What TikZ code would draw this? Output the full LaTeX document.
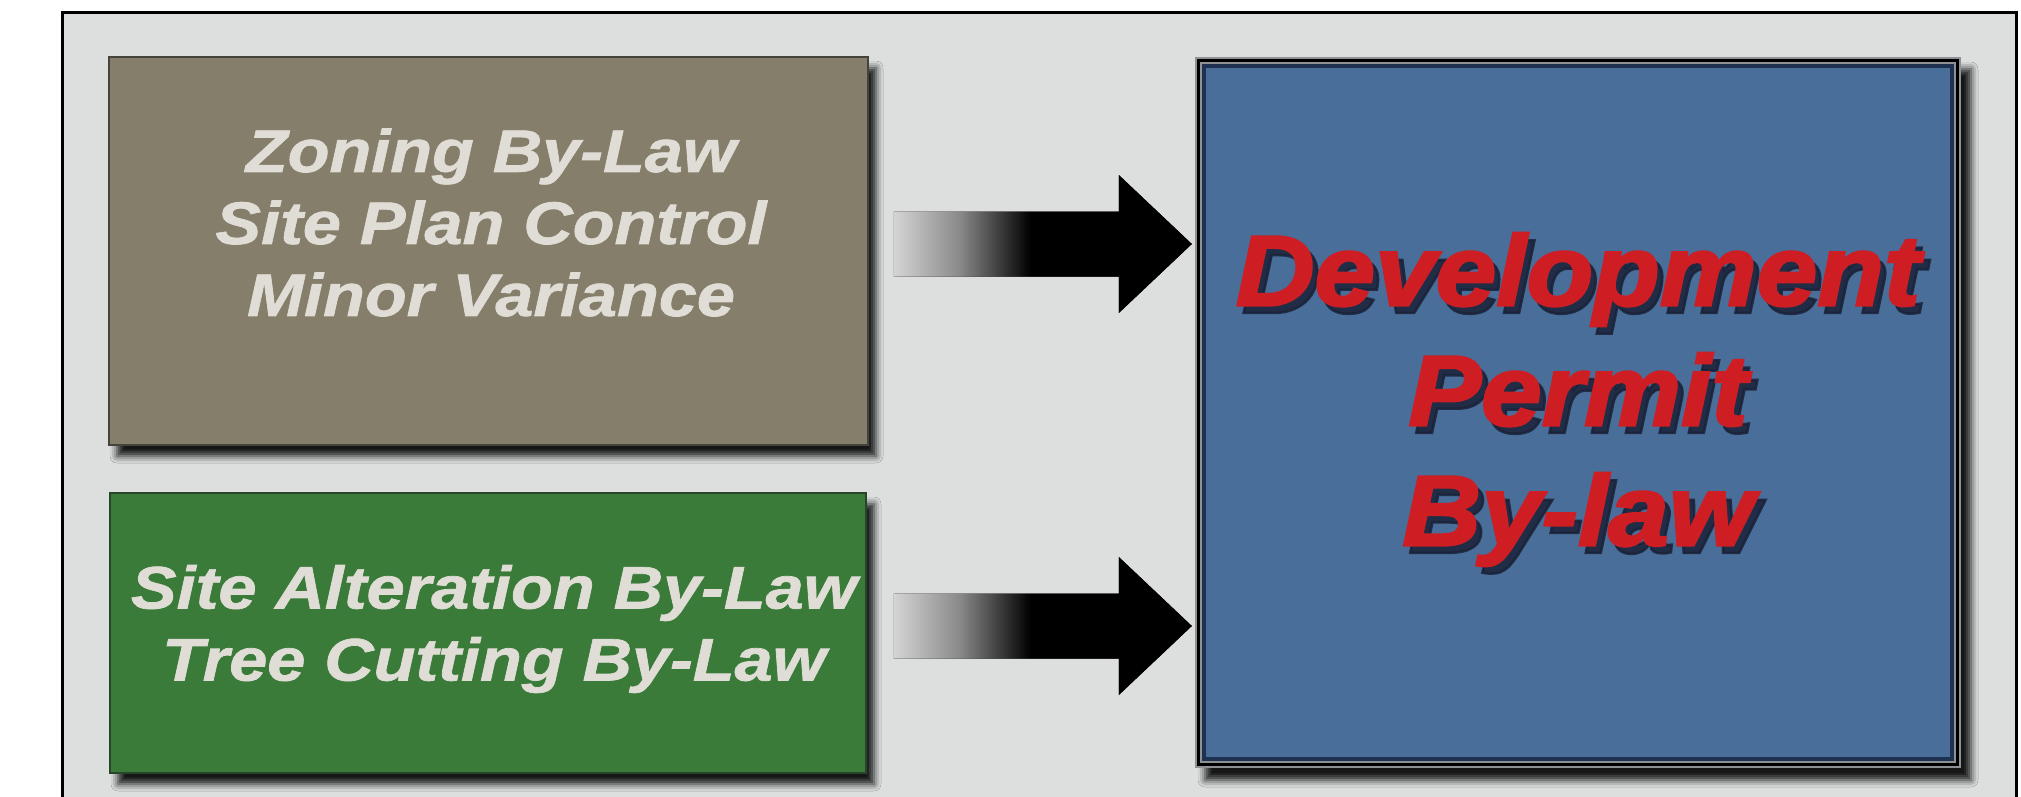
\documentclass[tikz,border=0pt]{standalone}
\usepackage{fontspec}
\newfontfamily\lawfont{Liberation Sans}[FakeStretch=1.14,FakeBold=1.2]
\newfontfamily\devfont{Liberation Sans}[FakeStretch=1.09,FakeBold=2.6]
\usetikzlibrary{calc,shadows.blur}
\definecolor{panelgray}{HTML}{DCDFDE}
\definecolor{zonbrown}{HTML}{857E6B}
\definecolor{zonedge}{HTML}{45443C}
\definecolor{sitegreen}{HTML}{3A7B3A}
\definecolor{siteedge}{HTML}{28452A}
\definecolor{devblue}{HTML}{496E99}
\definecolor{devnavy}{HTML}{1E3150}
\definecolor{devrim}{HTML}{8E9196}
\definecolor{lawtext}{HTML}{E0DDD6}
\definecolor{devred}{HTML}{CE1E24}
\definecolor{devshadow}{HTML}{1A2238}
\definecolor{arrowlight}{HTML}{D4D4D4}
\definecolor{arrowmid}{HTML}{8A8A8A}
\pgfdeclarehorizontalshading{arrowfade}{100bp}{color(0bp)=(arrowlight); color(25bp)=(arrowlight); color(36bp)=(arrowmid); color(48bp)=(black); color(100bp)=(black)}
\newcommand\lawarrow[2]{%
  \fill[shading=arrowfade]
    ($(#1)+(0,-32.5)$) -- ($(#2)+(-73,-32.5)$) -- ($(#2)+(-73,-69)$) -- (#2)
    -- ($(#2)+(-73,69)$) -- ($(#2)+(-73,32.5)$) -- ($(#1)+(0,32.5)$) -- cycle;}
\begin{document}
\begin{tikzpicture}[x=1pt,y=-1pt,
  boxshadow/.style={blur shadow={shadow xshift=8pt,shadow yshift=-11pt,shadow blur radius=7pt,shadow opacity=90}},
  lawbox/.style={rectangle,inner sep=0pt,line width=1.5pt,boxshadow},
  lawtxt/.style={align=center,text=lawtext,font=\lawfont\bfseries\itshape\fontsize{60}{72}\selectfont},
  devtxtstyle/.style={align=center,font=\devfont\bfseries\itshape\fontsize{100}{120}\selectfont}]
\useasboundingbox (0,0) rectangle (2021,797);
\clip (0,0) rectangle (2021,797);
\fill[white] (0,0) rectangle (2021,797);
\fill[panelgray] (62,13) rectangle (2016,800);
\draw[line width=3pt] (62,805) -- (62,13) -- (2016,13) -- (2016,805);

% left boxes
\node[lawbox,fill=zonbrown,draw=zonedge,minimum width=759pt,minimum height=388pt] (zon) at (488.5,251) {};
\node[lawbox,fill=sitegreen,draw=siteedge,minimum width=756pt,minimum height=280pt] (site) at (488,633) {};
\node[lawtxt] (zontxt) at (491,222.5) {Zoning By-Law\\Site Plan Control\\Minor Variance};
\node[lawtxt] (sitetxt) at (494,629) {Site Alteration By-Law\\Tree Cutting By-Law};

% right box with layered border
\node[rectangle,inner sep=0pt,fill=devrim,minimum width=766pt,minimum height=711pt,
  blur shadow={shadow xshift=10pt,shadow yshift=-12pt,shadow blur radius=7pt,shadow opacity=90}] (dev) at (1578,412.5) {};
\fill[black] ($(dev.south west)+(2,-2)$) rectangle ($(dev.north east)+(-2,2)$);
\fill[devrim] ($(dev.south west)+(5,-5)$) rectangle ($(dev.north east)+(-5,5)$);
\fill[devnavy] ($(dev.south west)+(7,-7)$) rectangle ($(dev.north east)+(-7,7)$);
\fill[devblue] ($(dev.south west)+(11,-11)$) rectangle ($(dev.north east)+(-11,11)$);
\node[devtxtstyle,text=devshadow,opacity=0.85] (devshade) at (1584,407) {Development\\Permit\\By-law};
\node[devtxtstyle,text=devred] (devtxt) at (1578,399.5) {Development\\Permit\\By-law};

% arrows
\coordinate (a1s) at ($(zon.east)+(25,-7)$);
\coordinate (a1t) at ($(dev.west |- a1s)+(-3,0)$);
\coordinate (a2s) at ($(site.east)+(27,-7)$);
\coordinate (a2t) at ($(dev.west |- a2s)+(-3,0)$);
\lawarrow{a1s}{a1t}
\lawarrow{a2s}{a2t}
\end{tikzpicture}
\end{document}
